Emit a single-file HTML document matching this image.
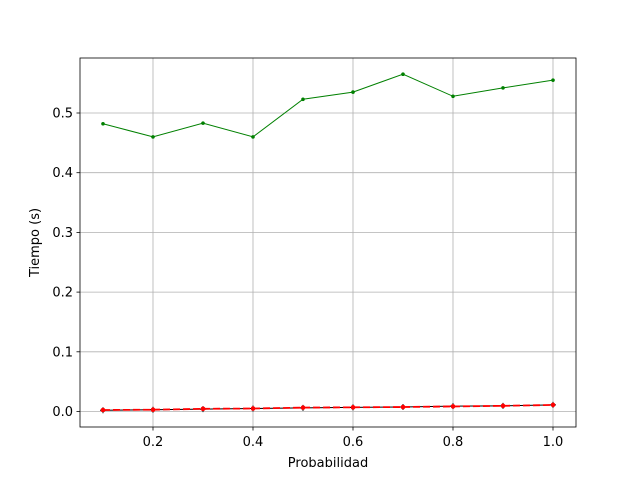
<!DOCTYPE html>
<html><head><meta charset="utf-8"><style>body{margin:0;background:#fff}svg{display:block}text{font-family:"DejaVu Sans","Liberation Sans",sans-serif;font-size:13px;fill:#000}</style></head>
<body>
<svg id="chart" width="640" height="480"></svg>
<script>
const probs=[0.1,0.2,0.3,0.4,0.5,0.6,0.7,0.8,0.9,1.0];
const greenSeries=[0.482,0.460,0.483,0.460,0.523,0.535,0.565,0.528,0.542,0.555];
const blackSeries=[0.002,0.003,0.004,0.005,0.006,0.007,0.0075,0.009,0.0095,0.011];
const redSeries=[0.0025,0.003,0.0045,0.005,0.0065,0.007,0.0075,0.0085,0.0095,0.011];
const xTicks=[0.2,0.4,0.6,0.8,1.0];
const yTicks=[0.0,0.1,0.2,0.3,0.4,0.5];
const L=80,R=576,T=58,B=427;
const xs=v=>103+(v-0.1)*500;
const ys=v=>411.5-v*597;
const svg=document.getElementById('chart');
const NS='http://www.w3.org/2000/svg';
function mk(tag,attrs,parent){const e=document.createElementNS(NS,tag);for(const k in attrs)e.setAttribute(k,attrs[k]);(parent||svg).appendChild(e);return e;}
xTicks.forEach(t=>{const x=xs(t);
const g=mk('line',{x1:x,x2:x,y1:T,y2:B,stroke:'#b0b0b0','stroke-width':0.8});


mk('line',{x1:x,x2:x,y1:B,y2:B+3.5,stroke:'#000','stroke-width':0.8});
const tx=mk('text',{x:x,y:B+19,'text-anchor':'middle'});tx.textContent=t.toFixed(1);

});
yTicks.forEach(t=>{const y=ys(t);
const g=mk('line',{x1:L,x2:R,y1:y,y2:y,stroke:'#b0b0b0','stroke-width':0.8});


mk('line',{x1:L-3.5,x2:L,y1:y,y2:y,stroke:'#000','stroke-width':0.8});
const tx=mk('text',{x:L-7,y:y+4.5,'text-anchor':'end'});tx.textContent=t.toFixed(1);

});
function series(vals,color,dash,marker,name,w){
const pts=probs.map((p,i)=>xs(p)+','+ys(vals[i])).join(' ');
const pl=mk('polyline',{points:pts,fill:'none',stroke:color,'stroke-width':w,'stroke-dasharray':dash});


probs.forEach((p,i)=>{const x=xs(p),y=ys(vals[i]);
if(marker==='+'){mk('path',{d:`M${x-3},${y}H${x+3}M${x},${y-3}V${y+3}`,stroke:color,'stroke-width':1});}
else{const c=mk('circle',{cx:x,cy:y,r:marker,fill:color});

}});}
series(greenSeries,'green','none',1.8,'green-series',1);
series(blackSeries,'#000','none','+','black-series',1);
series(redSeries,'red','7,3','2.3','red-series',1.8);
const fr=mk('rect',{x:L,y:T,width:R-L,height:B-T,fill:'none',stroke:'#000','stroke-width':0.8});


const xl=mk('text',{x:(L+R)/2,y:467,'text-anchor':'middle'});xl.textContent='Probabilidad';


const yl=mk('text',{x:0,y:0,'text-anchor':'middle',transform:`translate(39,${(T+B)/2}) rotate(-90)`});yl.textContent='Tiempo (s)';


</script>
</body></html>
